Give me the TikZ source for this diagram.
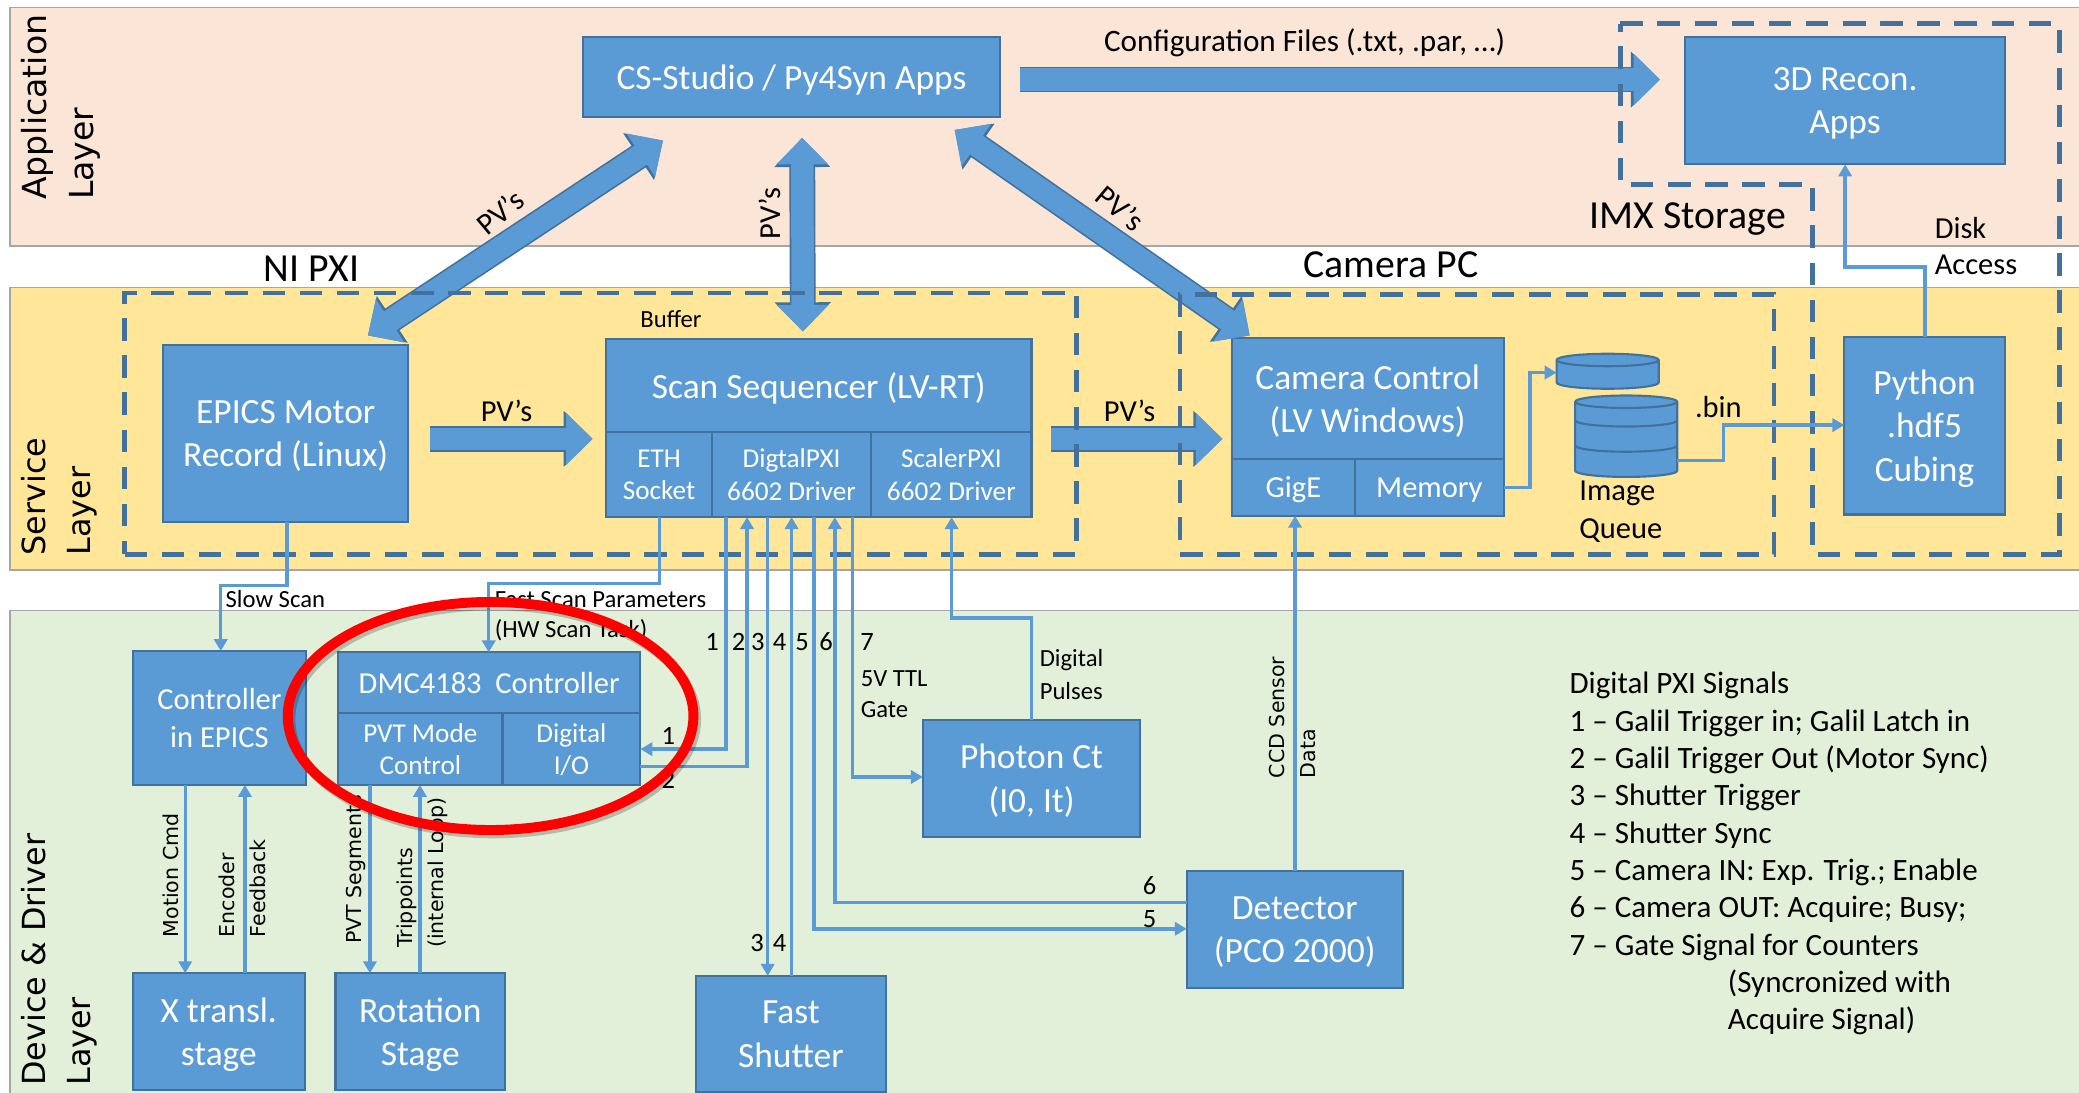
\documentclass[tikz,border=0pt]{standalone}
\usepackage{fontspec}
\usepackage{xcolor}
\setmainfont{Carlito}
\newfontfamily\widefont{DejaVu Sans}
\usetikzlibrary{arrows.meta,positioning,shapes.geometric,calc}
\definecolor{appfill}{HTML}{FBE5D6}
\definecolor{svcfill}{HTML}{FFE699}
\definecolor{devfill}{HTML}{E2F0D9}
\definecolor{bandline}{HTML}{A6A6A6}
\definecolor{boxfill}{HTML}{5B9BD5}
\definecolor{boxline}{HTML}{41719C}
\newcommand{\fsize}[1]{\fontsize{#1}{#1}\selectfont}
\begin{document}
\begin{tikzpicture}[
    x=1pt,y=-1pt,
    node distance=0pt,
    band/.style={draw=bandline,line width=1pt,anchor=north west,minimum width=1561pt},
    box/.style={draw=boxline,line width=1.6pt,fill=boxfill,text=white,align=center,anchor=north west,font=\fsize{26.7},text depth=0pt,inner sep=0pt,outer sep=0pt},
    cell/.style={box,font=\fsize{20.5}},
    tankspot/.style={minimum width=77pt,inner sep=0pt,outer sep=0pt},
    tankbody/.style={draw=boxline,line width=1.6pt,fill=boxfill},
    tankring/.style={draw=boxline,line width=1.6pt},
    heavy/.style={line width=17pt,boxfill,-{Triangle[length=20pt,width=38pt]},preaction={draw=boxline,line width=19.5pt,-{Triangle[length=22pt,width=41pt]}}},
    heavyboth/.style={line width=17pt,boxfill,{Triangle[length=20pt,width=38pt]}-{Triangle[length=20pt,width=38pt]},preaction={draw=boxline,line width=19.5pt,{Triangle[length=22pt,width=41pt]}-{Triangle[length=22pt,width=41pt]}}},
    zone/.style={draw=boxline,line width=3.6pt,dash pattern=on 17pt off 11pt,outer sep=0pt,inner sep=0pt},
    sig/.style={draw=boxfill,line width=2.6pt,-{Triangle[length=9pt,width=10pt]}},
    tag/.style={text=black,font=\fsize{18.6},inner sep=0pt,align=left},
    numtag/.style={tag,font=\fsize{20}},
    head/.style={text=black,font=\fsize{30},inner sep=0pt},
    pvtag/.style={text=black,font=\fsize{23},inner sep=0pt},
    listline/.style={tag,font=\fsize{23.4},anchor=west,text height=16pt,text depth=2pt},
    layer/.style={text=black,font=\widefont\fsize{24},rotate=90,anchor=north west,align=left,inner sep=0pt},
    vtag/.style={text=black,font=\widefont\fsize{15.5},rotate=90,anchor=north west,align=left,inner sep=0pt}
  ]
    \useasboundingbox (0,0) rectangle (1568,823.6);

    \node[band,fill=appfill,minimum height=180pt] (appband) at (7,5) {};
    \node[band,fill=svcfill,minimum height=213pt] (svcband) at (7,216.5) {};
    \node[band,fill=devfill,minimum height=370pt] (devband) at (7,460) {};

    \node[layer,font=\widefont\fsize{25}] (applabel) at (16,151) {Application\\[10pt]Layer};
    \node[layer] (svclabel) at (16,419) {Service\\[10pt]Layer};
    \node[layer] (devlabel) at (16,819) {Device \& Driver\\[10pt]Layer};

    \node[box,minimum width=314pt,minimum height=60pt] (studio) at (440,28) {CS-Studio / Py4Syn Apps};
    \node[box,minimum width=241pt,minimum height=96pt] (recon) at (1271,28) {3D Recon.\\[6pt]Apps};

    \node[box,minimum width=185pt,minimum height=134pt] (motor) at (123,260) {EPICS Motor\\[6pt]Record (Linux)};
    \node[box,minimum width=321pt,minimum height=70pt] (seq) at (457,256) {Scan Sequencer (LV-RT)};
    \node[cell,minimum width=80pt,minimum height=64pt,below=of seq.south west,anchor=north west] (eth) {ETH\\[4pt]Socket};
    \node[cell,minimum width=120pt,minimum height=64pt,right=of eth] (digdrv) {DigtalPXI\\[4pt]6602 Driver};
    \node[cell,minimum width=121pt,minimum height=64pt,right=of digdrv] (scaler) {ScalerPXI\\[4pt]6602 Driver};

    \node[box,minimum width=205pt,minimum height=91pt] (camctl) at (929,255) {Camera Control\\[6pt](LV Windows)};
    \node[cell,font=\fsize{23},minimum width=93pt,minimum height=43pt,below=of camctl.south west,anchor=north west] (gige) {GigE};
    \node[cell,font=\fsize{23},minimum width=112pt,minimum height=43pt,right=of gige] (memory) {Memory};

    \node[tankspot,minimum height=27pt] (bufcyl) at (1212.5,280) {};
    \node[tankspot,minimum height=62pt] (imgcyl) at (1226.5,329) {};
    \draw[tankbody] ([yshift=-5pt]bufcyl.north west) arc[start angle=180,end angle=0,x radius=38.5pt,y radius=4.7pt] -- ([yshift=5pt]bufcyl.south east) arc[start angle=0,end angle=-180,x radius=38.5pt,y radius=4.7pt] -- cycle;
    \draw[tankring] ([yshift=-5pt]bufcyl.north west) arc[start angle=180,end angle=360,x radius=38.5pt,y radius=4.7pt];
    \draw[tankbody] ([yshift=-5pt]imgcyl.north west) arc[start angle=180,end angle=0,x radius=38.5pt,y radius=4.7pt] -- ([yshift=5pt]imgcyl.south east) arc[start angle=0,end angle=-180,x radius=38.5pt,y radius=4.7pt] -- cycle;
    \draw[tankring] ([yshift=-5pt]imgcyl.north west) arc[start angle=180,end angle=360,x radius=38.5pt,y radius=4.7pt];
    \draw[tankring] ([yshift=-19pt]imgcyl.north west) arc[start angle=180,end angle=360,x radius=38.5pt,y radius=4.7pt];
    \draw[tankring] ([yshift=-38pt]imgcyl.north west) arc[start angle=180,end angle=360,x radius=38.5pt,y radius=4.7pt];

    \node[box,minimum width=121pt,minimum height=134pt] (cubing) at (1391,254) {Python\\[6pt].hdf5\\[6pt]Cubing};

    \node[box,font=\fsize{23},minimum width=131pt,minimum height=101pt] (epicsctl) at (100,491) {Controller\\[6pt]in EPICS};
    \node[box,font=\fsize{23},minimum width=228pt,minimum height=46pt] (galil) at (255,492) {DMC4183~~Controller};
    \node[cell,minimum width=124pt,minimum height=54pt,below=of galil.south west,anchor=north west] (pvtmode) {PVT Mode\\[4pt]Control};
    \node[cell,minimum width=104pt,minimum height=54pt,right=of pvtmode] (dio) {Digital\\[4pt]I/O};

    \node[box,minimum width=130pt,minimum height=88pt] (xstage) at (100,734) {X transl.\\[6pt]stage};
    \node[box,minimum width=128pt,minimum height=88pt] (rotstage) at (253,734) {Rotation\\[6pt]Stage};
    \node[box,minimum width=143pt,minimum height=88pt] (shutter) at (525,736) {Fast\\[6pt]Shutter};
    \node[box,minimum width=164pt,minimum height=88pt] (photon) at (696,543) {Photon Ct\\[6pt](I0, It)};
    \node[box,minimum width=163pt,minimum height=88pt] (detector) at (895,657) {Detector\\[6pt](PCO 2000)};

    \draw[heavy] ([shift={(15,2)}]studio.east) -- ([shift={(-19,-16)}]recon.west);
    \draw[heavyboth] ([shift={(-97,18)}]studio.south) -- ([shift={(62,-7)}]motor.north);
    \draw[heavyboth] ([shift={(8,16)}]studio.south) -- ([shift={(-12,-6)}]seq.north);
    \draw[heavyboth] ([shift={(123,10)}]studio.south) -- ([shift={(-89,-2)}]camctl.north);
    \draw[heavy] ([shift={(16,4)}]motor.east) -- ([shift={(-10,5)}]seq.south west);
    \draw[heavy] ([shift={(15,5)}]scaler.north east) -- ([shift={(-7,-15)}]gige.north west);

    \node[zone,anchor=north west,minimum width=718pt,minimum height=197pt] (nizone) at (94,221) {};
    \node[zone,anchor=north west,minimum width=448pt,minimum height=196pt] (camzone) at (890,222) {};
    \draw[zone] (1222,18) -- (1553,18) -- (1553,418) -- (1367,418) -- (1367,139) -- (1222,139) -- cycle;

    \coordinate (sb) at (216.5,441.5);
    \coordinate (sc) at (166.5,441.5);
    \coordinate (fb) at (497.5,440);
    \coordinate (fc) at (368.6,440);

    \draw[sig] (motor.south -| sb) -- (sb) -- (sc) -- (epicsctl.north -| sc);
    \draw[sig] (eth.south -| fb) -- (fb) -- (fc) -- (galil.north -| fc);
    \draw[sig] (digdrv.south -| {547.6,0}) -- (547.6,565) -- (dio.east |- {0,565});
    \draw[sig] (dio.east |- {0,578}) -- (563.4,578) -- (digdrv.south -| {563.4,0});
    \draw[sig] (digdrv.south -| {579,0}) -- (shutter.north -| {579,0});
    \draw[sig] (shutter.north -| {597,0}) -- (digdrv.south -| {597,0});
    \draw[sig] (digdrv.south -| {614,0}) -- (614,700.5) -- (detector.west |- {0,700.5});
    \draw[sig] (detector.west |- {0,680.5}) -- (629.6,680.5) -- (digdrv.south -| {629.6,0});
    \draw[sig] (digdrv.south -| {643,0}) -- (643,586) -- (photon.west |- {0,586});
    \draw[sig] (photon.north -| {778,0}) -- (778,466) -- (717.7,466) -- (scaler.south -| {717.7,0});
    \draw[sig] (detector.north -| {976.7,0}) -- (gige.south -| {976.7,0});
    \draw[sig] (epicsctl.south -| {139.7,0}) -- (xstage.north -| {139.7,0});
    \draw[sig] (xstage.north -| {184.7,0}) -- (epicsctl.south -| {184.7,0});
    \draw[sig] (pvtmode.south -| {279,0}) -- (rotstage.north -| {279,0});
    \draw[sig] (rotstage.north -| {316.7,0}) -- (pvtmode.south -| {316.7,0});
    \draw[sig] (memory.east |- {0,367.7}) -- (1154,367.7) -- (1154,281) -- (bufcyl.west |- {0,281});
    \draw[sig] (imgcyl.east |- {0,347.5}) -- (1299.7,347.5) -- (1299.7,320.6) -- (cubing.west |- {0,320.6});
    \draw[sig] (cubing.north -| {1452,0}) -- (1452,201.5) -- (1391.6,201.5) -- (recon.south -| {1391.6,0});

    \node[head] (nitag) at (235,203) {NI PXI};
    \node[head] (camtag) at (1049,200) {Camera PC};
    \node[head] (imxtag) at (1273,165) {IMX Storage};
    \node[pvtag,rotate=40] (pv1) at (377,160) {PV’s};
    \node[pvtag,rotate=90] (pv2) at (581,161) {PV’s};
    \node[pvtag,rotate=-40] (pv3) at (845,157) {PV’s};
    \node[pvtag] (pv4) at (382,310) {PV’s};
    \node[pvtag] (pv5) at (852,310) {PV’s};
    \node[pvtag,font=\fsize{23.5}] (cfgtag) at (984,32) {Configuration Files (.txt, .par, …)};
    \node[tag] (buftag) at (506,241) {Buffer};
    \node[pvtag,anchor=west] (disktag) at (1459,172) {Disk};
    \node[pvtag,anchor=west] (accesstag) at (1459,200) {Access};
    \node[pvtag] (bintag) at (1296,307) {.bin};
    \node[pvtag,anchor=west] (imgtag) at (1191,372) {Image};
    \node[pvtag,anchor=west] (queuetag) at (1191,400) {Queue};
    \node[tag,anchor=west] (slowtag) at (170,452) {Slow Scan};
    \node[tag,anchor=west] (fasttag) at (373,452) {Fast Scan Parameters};
    \node[tag,anchor=west] (hwtag) at (373,475) {(HW Scan Task)};
    \foreach \sx/\sn in {537/1,557/2,571.5/3,588/4,605/5,623/6,654/7}
      \node[numtag] (num\sn) at (\sx,484) {\sn};
    \node[tag,anchor=west] (ttltag) at (649,512) {5V TTL};
    \node[tag,anchor=west] (gatetag) at (649,535) {Gate};
    \node[tag,anchor=west] (pulsetag) at (784,498) {Digital};
    \node[tag,anchor=west] (pulsetagb) at (784,521) {Pulses};
    \node[numtag] (dio1) at (504,555) {1};
    \node[numtag] (dio2) at (504,588) {2};
    \node[numtag] (sh3) at (571,711) {3};
    \node[numtag] (sh4) at (588,711) {4};
    \node[numtag] (det6) at (867,668) {6};
    \node[numtag] (det5) at (867,693) {5};
    \node[vtag] (ccdtag) at (957,587) {CCD Sensor\\[8pt]Data};
    \node[vtag] (cmdtag) at (123,707) {Motion Cmd};
    \node[vtag] (enctag) at (165,707) {Encoder\\[8pt]Feedback};
    \node[vtag] (segtag) at (261,712) {PVT Segments};
    \node[vtag] (triptag) at (299,715) {Trippoints\\[8pt](internal Loop)};

    \node[listline] (signals) at (1183.6,516.2) {Digital PXI Signals};
    \node[listline] (line1) at (1183.6,544.4) {1 – Galil Trigger in; Galil Latch in};
    \node[listline] (line2) at (1183.6,572.5) {2 – Galil Trigger Out (Motor Sync)};
    \node[listline] (line3) at (1183.6,600.7) {3 – Shutter Trigger};
    \node[listline] (line4) at (1183.6,628.8) {4 – Shutter Sync};
    \node[listline] (line5) at (1183.6,657) {5 – Camera IN: Exp. Trig.; Enable};
    \node[listline] (line6) at (1183.6,685.1) {6 – Camera OUT: Acquire; Busy;};
    \node[listline] (line7) at (1183.6,713.3) {7 – Gate Signal for Counters};
    \node[listline] (syncnote) at (1303,741.4) {(Syncronized with};
    \node[listline] (syncnoteb) at (1303,769.6) {Acquire Signal)};

    \node[ellipse,draw=black,opacity=0.22,line width=7.5pt,minimum width=306pt,minimum height=172pt,inner sep=0pt] (focusshade) at (372,542.5) {};
    \node[ellipse,draw=red,line width=7.5pt,minimum width=306pt,minimum height=172pt,inner sep=0pt] (focus) at (370,540) {};
  \end{tikzpicture}
\end{document}
